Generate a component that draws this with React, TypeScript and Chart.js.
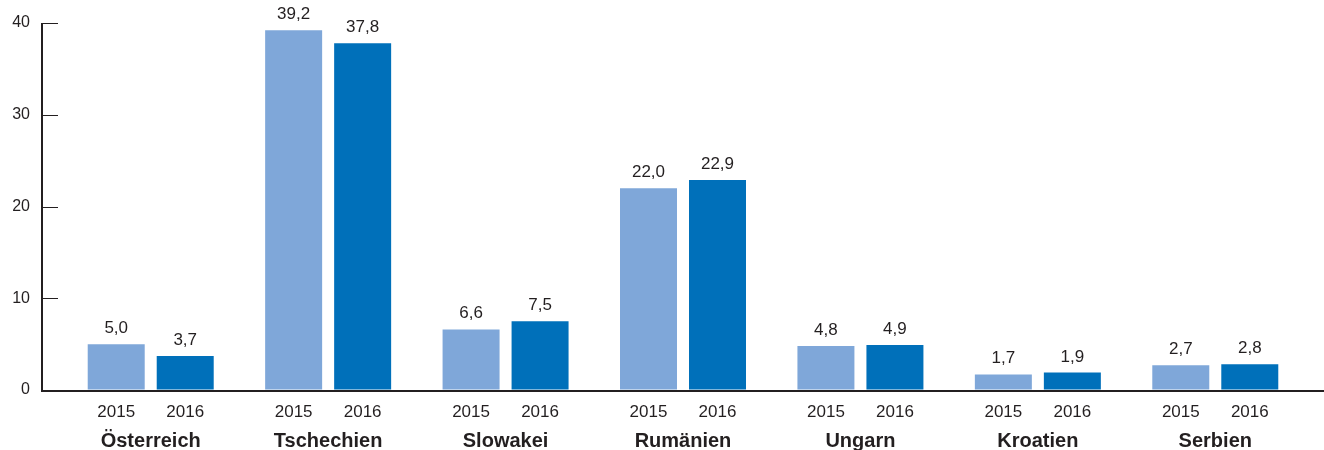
import React, { useEffect, useRef } from "react";
import { Chart, registerables } from "chart.js";

Chart.register(...registerables);

const countries = ["Österreich", "Tschechien", "Slowakei", "Rumänien", "Ungarn", "Kroatien", "Serbien"];
const years = ["2015", "2016"];
const values2015 = [5.0, 39.2, 6.6, 22.0, 4.8, 1.7, 2.7];
const values2016 = [3.7, 37.8, 7.5, 22.9, 4.9, 1.9, 2.8];
const yTicks = [0, 10, 20, 30, 40];

const TEXT = "#231f20";
const LIGHT = "#7fa7d9";
const DARK = "#0070ba";
const FONT = "'Liberation Sans', Arial, sans-serif";

const fmt = (v: number) => v.toFixed(1).replace(".", ",");

const decorPlugin = {
  id: "decor",
  afterDraw(chart: any) {
    const { ctx, scales } = chart;
    const y = scales.y;
    const x = scales.x;
    const axisX = 42;
    const zeroY = y.getPixelForValue(0);
    ctx.save();
    ctx.strokeStyle = TEXT;
    // vertical axis
    ctx.lineWidth = 2;
    ctx.beginPath();
    ctx.moveTo(axisX, y.getPixelForValue(40));
    ctx.lineTo(axisX, zeroY + 2);
    ctx.stroke();
    // ticks
    ctx.lineWidth = 1;
    yTicks.forEach((t) => {
      const py = Math.round(y.getPixelForValue(t)) + 0.5;
      ctx.beginPath();
      ctx.moveTo(axisX, py);
      ctx.lineTo(58, py);
      ctx.stroke();
    });
    // baseline
    ctx.lineWidth = 2;
    ctx.beginPath();
    ctx.moveTo(axisX - 1, zeroY + 1);
    ctx.lineTo(chart.width, zeroY + 1);
    ctx.stroke();

    // value labels and year labels
    ctx.fillStyle = TEXT;
    ctx.textAlign = "center";
    chart.data.datasets.forEach((ds: any, di: number) => {
      const meta = chart.getDatasetMeta(di);
      meta.data.forEach((bar: any, i: number) => {
        ctx.font = `17px ${FONT}`;
        ctx.textBaseline = "alphabetic";
        ctx.fillText(fmt(ds.data[i]), bar.x, bar.y - 11);
        ctx.textBaseline = "middle";
        ctx.fillText(years[di], bar.x, 412);
      });
    });
    // country labels
    ctx.font = `bold 20px ${FONT}`;
    ctx.textBaseline = "alphabetic";
    countries.forEach((c, i) => {
      ctx.fillText(c, x.getPixelForValue(i), 447);
    });
    ctx.restore();
  },
};

export default function App() {
  const ref = useRef<HTMLCanvasElement>(null);
  useEffect(() => {
    document.body.style.margin = "0";
    const chart = new Chart(ref.current!, {
      type: "bar",
      data: {
        labels: countries,
        datasets: [
          { label: years[0], data: values2015, backgroundColor: LIGHT, categoryPercentage: 0.7778, barPercentage: 0.826 },
          { label: years[1], data: values2016, backgroundColor: DARK, categoryPercentage: 0.7778, barPercentage: 0.826 },
        ],
      },
      options: {
        animation: false,
        responsive: false,
        layout: { padding: { left: 12, right: 20, top: 23, bottom: 60 } },
        plugins: { legend: { display: false }, tooltip: { enabled: false } },
        scales: {
          x: { display: false },
          y: {
            min: 0,
            max: 40,
            afterFit: (s: any) => {
              s.width = 50;
              s.paddingTop = 10;
              s.paddingBottom = 10;
            },
            ticks: { stepSize: 10, padding: 32, color: TEXT, font: { size: 16, family: FONT } },
            grid: { drawOnChartArea: false, drawTicks: false },
            border: { display: false },
          },
        },
      },
      plugins: [decorPlugin],
    });
    return () => chart.destroy();
  }, []);
  return (
    <div style={{ width: 1324, height: 450 }}>
      <canvas ref={ref} width={1324} height={450} />
    </div>
  );
}
